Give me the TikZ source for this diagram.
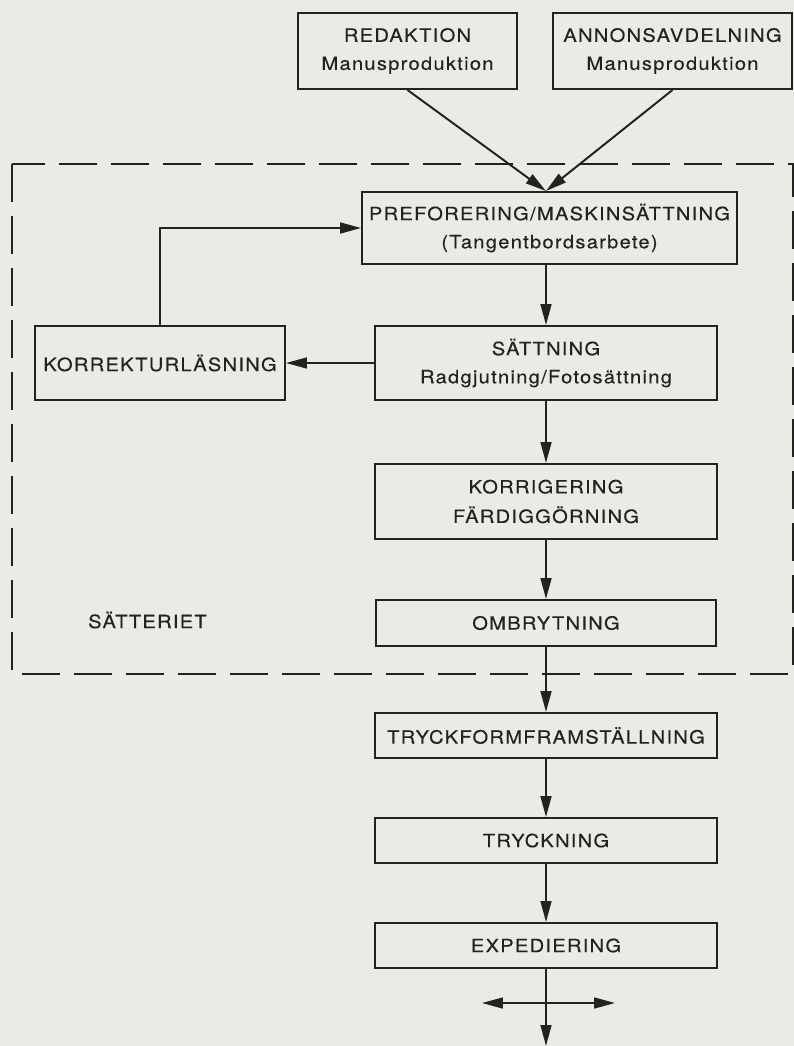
\documentclass[tikz,border=0pt]{standalone}
\usepackage{fontspec}
\setmainfont[FakeStretch=1.1,LetterSpace=7,FakeBold=0.3]{TeX Gyre Heros}
\usepackage{tikz}
\usetikzlibrary{arrows.meta}
\definecolor{paper}{RGB}{233,236,228}
\definecolor{ink}{RGB}{34,34,34}
\tikzset{
  stage/.style={draw=ink, line width=1.4pt, text=ink, align=center,
      inner sep=0pt, font=\fontsize{13}{20}\selectfont},
  boxsize/.style 2 args={minimum width=#1*0.025cm, minimum height=#2*0.025cm},
  flow/.style={draw=ink, line width=1.4pt, -{Triangle[length=5.2mm,width=2.7mm]}},
  frame/.style={draw=ink, line width=1.4pt, dash pattern=on 9.5mm off 3.5mm},
}

\begin{document}
\begin{tikzpicture}[x=0.025cm, y=-0.025cm]
      \fill [paper] (0,0) rectangle (794,1046);
      \useasboundingbox (0,0) rectangle (794,1046);

      % the type-setting department
      \draw [frame] (12,164) rectangle (793,674);
      \node [text=ink, font=\fontsize{13}{20}\selectfont] (satteriet) at (147.5,620) {SÄTTERIET};

      \node [stage, boxsize={219}{76}] (redaktion) at (407.5,51) {REDAKTION\\Manusproduktion};
      \node [stage, boxsize={239}{76}] (annons) at (672.5,51) {ANNONSAVDELNING\\Manusproduktion};
      \node [stage, boxsize={375}{72}] (prefor) at (549.5,228) {PREFORERING/MASKINSÄTTNING\\(Tangentbordsarbete)};
      \node [stage, boxsize={250}{74}] (korrektur) at (160,363) {KORREKTURLÄSNING};
      \node [stage, boxsize={342}{74}] (saettning) at (546,363) {SÄTTNING\\Radgjutning/Fotosättning};
      \node [stage, boxsize={342}{75}] (korrigering) at (546,501.5) {KORRIGERING\\[1pt]FÄRDIGGÖRNING};
      \node [stage, boxsize={340}{46}] (ombrytning) at (546,623) {OMBRYTNING};
      \node [stage, boxsize={342}{45}] (tryckform) at (546,735.5) {TRYCKFORMFRAMSTÄLLNING};
      \node [stage, boxsize={342}{45}] (tryckning) at (546,840.5) {TRYCKNING};
      \node [stage, boxsize={342}{45}] (expediering) at (546,945.5) {EXPEDIERING};

      \draw [flow] (redaktion.south) -- (prefor.north -| saettning.north);
      \draw [flow] (annons.south) -- (prefor.north -| saettning.north);
      \draw [flow] (prefor.south -| saettning.north) -- (saettning.north);
      \draw [flow] (saettning.west) -- (korrektur.east);
      \draw [flow] (korrektur.north) |- (prefor.west);
      \draw [flow] (saettning.south) -- (korrigering.north);
      \draw [flow] (korrigering.south) -- (ombrytning.north);
      \draw [flow] (ombrytning.south) -- (tryckform.north);
      \draw [flow] (tryckform.south) -- (tryckning.north);
      \draw [flow] (tryckning.south) -- (expediering.north);

      % distribution
      \coordinate (split) at (546,1003);
      \coordinate (outleft) at (482,1003);
      \coordinate (outright) at (615,1003);
      \coordinate (outdown) at (546,1046);
      \draw [flow] (expediering.south) -- (outdown);
      \draw [flow, {Triangle[length=5.2mm,width=2.7mm]}-{Triangle[length=5.2mm,width=2.7mm]}] (outleft) -- (outright);
    \end{tikzpicture}
\end{document}
